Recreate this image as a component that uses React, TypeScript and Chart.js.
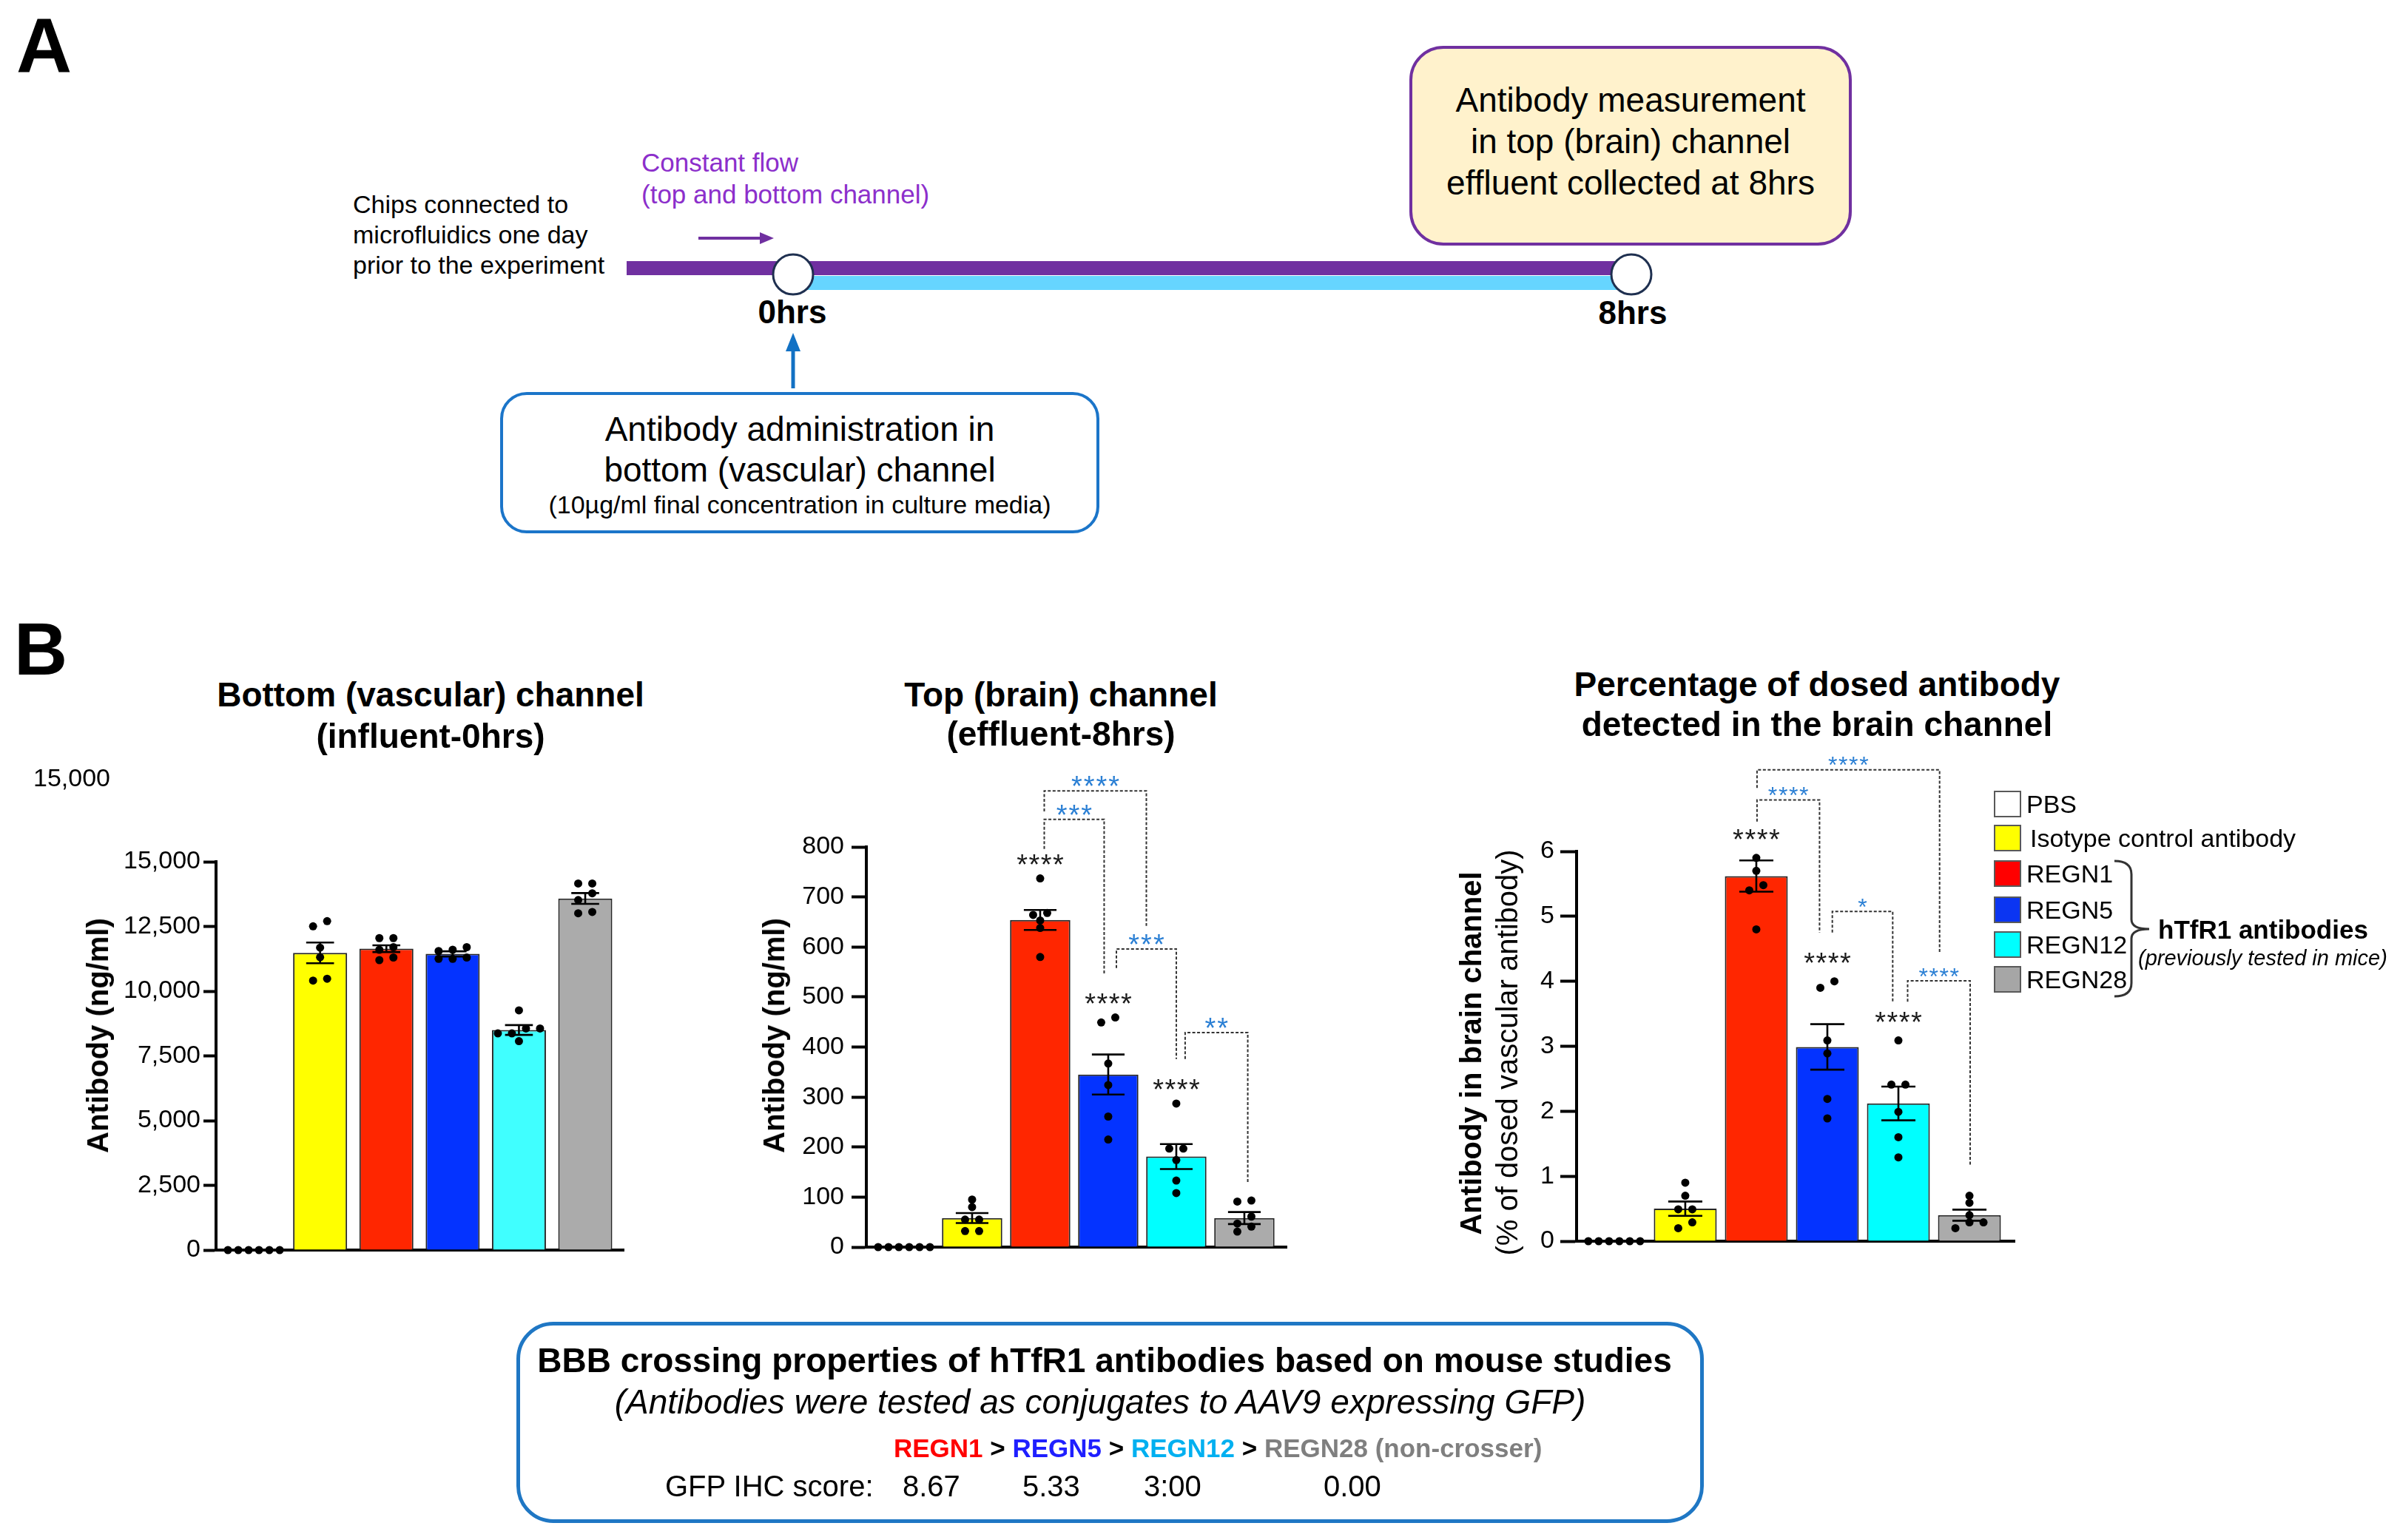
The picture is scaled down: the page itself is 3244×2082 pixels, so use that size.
import React, { useEffect, useRef } from 'react';
import { Chart, registerables } from 'chart.js';

Chart.register(...registerables);

const FONT = '"Liberation Sans", Arial, Helvetica, sans-serif';

// ---------------- DATA ----------------
const groups = ['PBS', 'Isotype control antibody', 'REGN1', 'REGN5', 'REGN12', 'REGN28'];
const legendColors = ['#FFFFFF', '#FFFF00', '#FF0000', '#0B35F2', '#00FFFF', '#A6A6A6'];

// B1: bottom (vascular) channel, influent 0 hrs (ng/ml)
const influentTicks = [0, 2500, 5000, 7500, 10000, 12500, 15000];
const influentMean = [0, 11480, 11640, 11440, 8500, 13580];
const influentSem = [0, 400, 130, 100, 190, 210];
const influentPoints = [
  [0, 0, 0, 0, 0, 0],
  [12705, 12505, 11680, 11310, 10410, 10480],
  [12050, 12050, 11700, 11600, 11300, 11200],
  [11700, 11600, 11550, 11300, 11250, 11250],
  [9260, 8560, 8560, 8370, 8370, 8070],
  [14160, 14160, 13780, 13520, 13010, 13060],
];

// B2: top (brain) channel, effluent 8 hrs (ng/ml)
const effluentTicks = [0, 100, 200, 300, 400, 500, 600, 700, 800];
const effluentMean = [0, 58, 654, 345, 181, 58];
const effluentSem = [0, 10, 20, 40, 25, 12];
const effluentPoints = [
  [0, 0, 0, 0, 0, 0],
  [95, 80, 55, 55, 32, 32],
  [737, 668, 664, 653, 638, 580],
  [449, 459, 367, 324, 261, 215],
  [287, 197, 197, 174, 133, 108],
  [93, 91, 61, 47, 41, 31],
];
const effluentVsControl = ['', '', '****', '****', '****', ''];
const effluentBrackets = [
  { from: 2.06, to: 2.94, level: 855, leftEnd: 796, rightEnd: 546, label: '***' },
  { from: 2.06, to: 3.56, level: 912, leftEnd: 871, rightEnd: 642, label: '****' },
  { from: 3.12, to: 4.0, level: 596, leftEnd: 558, rightEnd: 376, label: '***' },
  { from: 4.13, to: 5.05, level: 429, leftEnd: 376, rightEnd: 127, label: '**' },
];

// B3: % of dosed antibody detected in brain channel
const pctTicks = [0, 1, 2, 3, 4, 5, 6];
const pctMean = [0, 0.5, 5.62, 2.99, 2.12, 0.4];
const pctSem = [0, 0.11, 0.24, 0.35, 0.26, 0.085];
const pctPoints = [
  [0, 0, 0, 0, 0, 0],
  [0.9, 0.7, 0.49, 0.49, 0.29, 0.2],
  [5.9, 5.7, 5.48, 5.4, 4.8],
  [4.0, 3.9, 3.09, 2.89, 2.19, 1.89],
  [3.09, 2.41, 2.41, 1.99, 1.6, 1.29],
  [0.7, 0.59, 0.4, 0.29, 0.29, 0.2],
];
const pctVsControl = ['', '', '****', '****', '****', ''];
const pctBrackets = [
  { from: 2.01, to: 2.89, level: 6.79, leftEnd: 6.457, rightEnd: 4.75, label: '****' },
  { from: 2.01, to: 4.58, level: 7.255, leftEnd: 6.975, rightEnd: 4.447, label: '****' },
  { from: 3.07, to: 3.92, level: 5.074, leftEnd: 4.75, rightEnd: 3.685, label: '*' },
  { from: 4.13, to: 5.01, level: 4.008, leftEnd: 3.685, rightEnd: 1.157, label: '****' },
];

const gfpScores = ['8.67', '5.33', '3:00', '0.00'];

// ---------------- STYLES ----------------
const barColors1 = ['#FFFFFF', '#FFFF00', '#FF2600', '#0433FF', '#40FFFF', '#ABABAB'];
const barColors2 = ['#FFFFFF', '#FFFF00', '#FF2600', '#0433FF', '#00FFFF', '#ABABAB'];
const X_AXIS_H = 4;

type Bracket = { from: number; to: number; level: number; leftEnd: number; rightEnd: number; label: string };
interface PanelCfg {
  id: string;
  left: number; top: number; width: number; height: number;
  pad: { left: number; right: number; top: number; bottom: number };
  yAxisWidth: number;
  xMin: number; xMax: number;
  ticks: number[];
  tickFont: number; tickLength: number; tickPad: number;
  barPct: number; capHalf: number; dotR: number;
  colors: string[];
  means: number[]; sems: number[]; points: number[][];
  brackets: Bracket[]; vsControl: string[];
  starLift: number;
  bStarSize: number; bStarGap: number; bStarLift: number;
}

function swarm(vals: number[], gi: number, pxPerX: number, pxPerY: number) {
  const sorted = [...vals].sort((a, b) => b - a);
  const out: { x: number; y: number }[] = [];
  let i = 0;
  while (i < sorted.length) {
    let j = i + 1;
    while (j < sorted.length && (sorted[i] - sorted[j]) * pxPerY < 9.5) j++;
    const n = j - i;
    const gap = n >= 5 ? 14 : 19;
    const members = sorted.slice(i, j).reverse();
    members.forEach((v, m) => {
      const offPx = (m - (n - 1) / 2) * gap;
      out.push({ x: gi + offPx / pxPerX, y: v });
    });
    i = j;
  }
  return out;
}

function drawStars(ctx: CanvasRenderingContext2D, label: string, cx: number, cy: number, size: number, gap: number, color: string) {
  ctx.save();
  ctx.fillStyle = color;
  ctx.font = `${size}px ${FONT}`;
  ctx.textAlign = 'center';
  ctx.textBaseline = 'alphabetic';
  (ctx as any).letterSpacing = `${gap}px`;
  ctx.fillText(label, cx + gap / 2, cy + 0.58 * size);
  ctx.restore();
}

function annotPlugin(cfg: PanelCfg) {
  return {
    id: 'annot_' + cfg.id,
    afterDatasetDraw(chart: any, args: any) {
      if (args.index !== 0) return;
      const ctx: CanvasRenderingContext2D = chart.ctx;
      const xs = chart.scales.x;
      const ys = chart.scales.y;
      const cat = xs.getPixelForValue(1) - xs.getPixelForValue(0);
      ctx.save();
      ctx.strokeStyle = '#000';
      ctx.lineWidth = 2.6;
      cfg.means.forEach((m, i) => {
        const s = cfg.sems[i];
        if (!s) return;
        const x = xs.getPixelForValue(i);
        const yt = ys.getPixelForValue(m + s);
        const yb = ys.getPixelForValue(m - s);
        const hw = cat * cfg.capHalf;
        ctx.beginPath();
        ctx.moveTo(x, yt); ctx.lineTo(x, yb);
        ctx.moveTo(x - hw, yt); ctx.lineTo(x + hw, yt);
        ctx.moveTo(x - hw, yb); ctx.lineTo(x + hw, yb);
        ctx.stroke();
      });
      ctx.restore();
    },
    afterDatasetsDraw(chart: any) {
      const ctx: CanvasRenderingContext2D = chart.ctx;
      const xs = chart.scales.x;
      const ys = chart.scales.y;
      // stars vs isotype control
      cfg.vsControl.forEach((lab, i) => {
        if (!lab) return;
        const top = Math.max(...cfg.points[i]);
        drawStars(ctx, lab, xs.getPixelForValue(i), ys.getPixelForValue(top) - cfg.starLift, 38, 1.5, '#1a1a1a');
      });
      // comparison brackets
      ctx.save();
      ctx.strokeStyle = '#333';
      ctx.lineWidth = 2;
      ctx.setLineDash([4, 2.5]);
      cfg.brackets.forEach((b) => {
        const x1 = xs.getPixelForValue(b.from);
        const x2 = xs.getPixelForValue(b.to);
        const y = ys.getPixelForValue(b.level);
        ctx.beginPath();
        ctx.moveTo(x1, ys.getPixelForValue(b.leftEnd));
        ctx.lineTo(x1, y);
        ctx.lineTo(x2, y);
        ctx.lineTo(x2, ys.getPixelForValue(b.rightEnd));
        ctx.stroke();
      });
      ctx.restore();
      cfg.brackets.forEach((b) => {
        const cx = (xs.getPixelForValue(b.from) + xs.getPixelForValue(b.to)) / 2;
        const y = ys.getPixelForValue(b.level);
        drawStars(ctx, b.label, cx, y - cfg.bStarLift, cfg.bStarSize, cfg.bStarGap, '#2A7FD4');
      });
    },
  };
}

function buildConfig(cfg: PanelCfg): any {
  const plotW = cfg.width - cfg.pad.left - cfg.yAxisWidth - cfg.pad.right;
  const plotH = cfg.height - cfg.pad.top - cfg.pad.bottom - X_AXIS_H;
  const yMax = cfg.ticks[cfg.ticks.length - 1];
  const pxPerX = plotW / (cfg.xMax - cfg.xMin);
  const pxPerY = plotH / yMax;
  const pts = cfg.points.flatMap((vals, gi) => swarm(vals, gi, pxPerX, pxPerY));
  return {
    type: 'bar',
    data: {
      datasets: [
        {
          type: 'bar',
          data: cfg.means.map((v, i) => ({ x: i, y: v })),
          backgroundColor: cfg.colors,
          borderColor: '#262626',
          borderWidth: cfg.means.map((v) => (v > 0 ? 2 : 0)),
          categoryPercentage: cfg.barPct,
          barPercentage: 1,
          order: 2,
          clip: false,
        },
        {
          type: 'scatter',
          data: pts,
          pointRadius: cfg.dotR,
          pointBackgroundColor: '#000',
          pointBorderWidth: 0,
          showLine: false,
          order: 1,
          clip: false,
        },
      ],
    },
    options: {
      responsive: false,
      animation: false,
      events: [],
      layout: { padding: cfg.pad, autoPadding: false },
      plugins: { legend: { display: false }, tooltip: { enabled: false }, title: { display: false } },
      scales: {
        x: {
          type: 'linear',
          min: cfg.xMin,
          max: cfg.xMax,
          offset: false,
          grid: { display: false, offset: false },
          border: { display: true, color: '#000', width: 4 },
          ticks: { display: false },
          afterBuildTicks: (s: any) => {
            s.ticks = cfg.means.map((_, i) => ({ value: i }));
          },
          afterFit: (s: any) => {
            s.height = X_AXIS_H;
          },
        },
        y: {
          type: 'linear',
          min: cfg.ticks[0],
          max: yMax,
          afterBuildTicks: (s: any) => {
            s.ticks = cfg.ticks.map((v) => ({ value: v }));
          },
          ticks: {
            font: { family: FONT, size: cfg.tickFont },
            color: '#000',
            padding: cfg.tickPad,
            callback: (v: any) => Number(v).toLocaleString('en-US'),
          },
          grid: {
            display: true,
            drawOnChartArea: false,
            drawTicks: true,
            tickLength: cfg.tickLength,
            tickWidth: 4,
            tickColor: '#000',
          },
          border: { display: true, color: '#000', width: 4 },
          afterFit: (s: any) => {
            s.width = cfg.yAxisWidth;
          },
        },
      },
    },
    plugins: [annotPlugin(cfg)],
  };
}

const panels: PanelCfg[] = [
  {
    id: 'influent', left: 0, top: 1004, width: 880, height: 720,
    pad: { left: 150, right: 37, top: 161, bottom: 30 }, yAxisWidth: 142,
    xMin: -0.57, xMax: 5.58, ticks: influentTicks, tickFont: 34, tickLength: 17, tickPad: 4,
    barPct: 0.815, capHalf: 0.21, dotR: 5.5, colors: barColors1,
    means: influentMean, sems: influentSem, points: influentPoints,
    brackets: [], vsControl: ['', '', '', '', '', ''], starLift: 30,
    bStarSize: 38, bStarGap: 2, bStarLift: 15,
  },
  {
    id: 'effluent', left: 1000, top: 993, width: 760, height: 730,
    pad: { left: 40, right: 21, top: 152, bottom: 33 }, yAxisWidth: 131,
    xMin: -0.554, xMax: 5.62, ticks: effluentTicks, tickFont: 34, tickLength: 20, tickPad: 10,
    barPct: 0.886, capHalf: 0.24, dotR: 5.5, colors: barColors2,
    means: effluentMean, sems: effluentSem, points: effluentPoints,
    brackets: effluentBrackets, vsControl: effluentVsControl, starLift: 28,
    bStarSize: 38, bStarGap: 2, bStarLift: 15,
  },
  {
    id: 'pct', left: 1940, top: 993, width: 800, height: 730,
    pad: { left: 80, right: 17, top: 158, bottom: 41 }, yAxisWidth: 111,
    xMin: -0.53, xMax: 5.635, ticks: pctTicks, tickFont: 34, tickLength: 22, tickPad: 8,
    barPct: 0.885, capHalf: 0.24, dotR: 5.5, colors: barColors2,
    means: pctMean, sems: pctSem, points: pctPoints,
    brackets: pctBrackets, vsControl: pctVsControl, starLift: 34,
    bStarSize: 32, bStarGap: 1.6, bStarLift: 14,
  },
];

function BarPanel({ cfg }: { cfg: PanelCfg }) {
  const ref = useRef<HTMLCanvasElement>(null);
  useEffect(() => {
    if (!ref.current) return;
    const chart = new Chart(ref.current, buildConfig(cfg));
    return () => chart.destroy();
  }, [cfg]);
  return (
    <canvas
      ref={ref}
      width={cfg.width}
      height={cfg.height}
      style={{ position: 'absolute', left: cfg.left, top: cfg.top, width: cfg.width, height: cfg.height }}
    />
  );
}

type TxtProps = {
  x: number; y: number; size: number; bold?: boolean; italic?: boolean; color?: string;
  anchor?: 'start' | 'middle' | 'end'; rotate?: boolean; children: React.ReactNode;
};
function Txt({ x, y, size, bold, italic, color = '#000', anchor = 'start', rotate, children }: TxtProps) {
  const tx = anchor === 'middle' ? '-50%' : anchor === 'end' ? '-100%' : '0';
  return (
    <div
      style={{
        position: 'absolute', left: x, top: y, fontSize: size, fontWeight: bold ? 700 : 400,
        fontStyle: italic ? 'italic' : 'normal', color, lineHeight: 1, whiteSpace: 'nowrap',
        transform: rotate ? 'translate(-50%, -50%) rotate(-90deg)' : `translate(${tx}, -50%)`,
      }}
    >
      {children}
    </div>
  );
}

export default function App() {
  const legendY = [1087, 1133, 1181, 1230, 1277, 1324];
  return (
    <div
      style={{
        position: 'fixed', left: 0, top: 0, width: 3244, height: 2082, background: '#fff',
        fontFamily: FONT, overflow: 'hidden',
      }}
    >
      {/* ---------- Panel A ---------- */}
      <Txt x={22} y={61} size={104} bold>A</Txt>
      <svg width={3244} height={760} style={{ position: 'absolute', left: 0, top: 0 }}>
        <rect x={847} y={353} width={2205 - 847} height={19} fill="#7030A0" />
        <rect x={1072} y={373} width={2205 - 1072} height={19} fill="#66D5FF" />
        <circle cx={1072} cy={371} r={27} fill="#fff" stroke="#1F3050" strokeWidth={3} />
        <circle cx={2205} cy={371} r={27} fill="#fff" stroke="#1F3050" strokeWidth={3} />
        <line x1={944} y1={322} x2={1030} y2={322} stroke="#7030A0" strokeWidth={4} />
        <polygon points="1046,322 1027,314 1027,330" fill="#7030A0" />
        <line x1={1072} y1={525} x2={1072} y2={470} stroke="#1271C4" strokeWidth={5} />
        <polygon points="1072,450 1062,475 1082,475" fill="#1271C4" />
      </svg>
      <Txt x={477} y={276} size={34}>Chips connected to</Txt>
      <Txt x={477} y={317} size={34}>microfluidics one day</Txt>
      <Txt x={477} y={358} size={34}>prior to the experiment</Txt>
      <Txt x={867} y={219} size={35} color="#8C2FCB">Constant flow</Txt>
      <Txt x={867} y={262} size={35} color="#8C2FCB">(top and bottom channel)</Txt>
      <Txt x={1071} y={422} size={44} bold anchor="middle">0hrs</Txt>
      <Txt x={2207} y={423} size={44} bold anchor="middle">8hrs</Txt>
      <div
        style={{
          position: 'absolute', left: 676, top: 530, width: 810, height: 191, boxSizing: 'border-box',
          border: '4px solid #1B75C9', borderRadius: 36,
        }}
      />
      <Txt x={1081} y={580} size={46} anchor="middle">Antibody administration in</Txt>
      <Txt x={1081} y={635} size={46} anchor="middle">bottom (vascular) channel</Txt>
      <Txt x={1081} y={682} size={34} anchor="middle">(10µg/ml final concentration in culture media)</Txt>
      <div
        style={{
          position: 'absolute', left: 1905, top: 62, width: 598, height: 270, boxSizing: 'border-box',
          border: '4px solid #7030A0', borderRadius: 46, background: '#FFF2CC',
        }}
      />
      <Txt x={2204} y={135} size={46} anchor="middle">Antibody measurement</Txt>
      <Txt x={2204} y={191} size={46} anchor="middle">in top (brain) channel</Txt>
      <Txt x={2204} y={247} size={46} anchor="middle">effluent collected at 8hrs</Txt>

      {/* ---------- Panel B ---------- */}
      <Txt x={19} y={877} size={100} bold>B</Txt>
      {panels.map((p) => (
        <BarPanel key={p.id} cfg={p} />
      ))}
      <Txt x={582} y={939} size={46} bold anchor="middle">Bottom (vascular) channel</Txt>
      <Txt x={582} y={995} size={46} bold anchor="middle">(influent-0hrs)</Txt>
      <Txt x={45} y={1051} size={34}>15,000</Txt>
      <Txt x={132} y={1400} size={40} bold rotate>Antibody (ng/ml)</Txt>

      <Txt x={1434} y={939} size={46} bold anchor="middle">Top (brain) channel</Txt>
      <Txt x={1434} y={992} size={46} bold anchor="middle">(effluent-8hrs)</Txt>
      <Txt x={1046} y={1400} size={40} bold rotate>Antibody (ng/ml)</Txt>

      <Txt x={2456} y={925} size={46} bold anchor="middle">Percentage of dosed antibody</Txt>
      <Txt x={2456} y={979} size={46} bold anchor="middle">detected in the brain channel</Txt>
      <Txt x={1988} y={1424} size={40} bold rotate>Antibody in brain channel</Txt>
      <Txt x={2037} y={1423} size={40} rotate>(% of dosed vascular antibody)</Txt>

      {/* legend */}
      {groups.map((g, i) => (
        <React.Fragment key={g}>
          <div
            style={{
              position: 'absolute', left: 2695, top: legendY[i] - 18, width: 37, height: 36,
              boxSizing: 'border-box', border: '2px solid #595959', background: legendColors[i],
            }}
          />
          <Txt x={i === 1 ? 2744 : 2739} y={legendY[i]} size={34}>{g}</Txt>
        </React.Fragment>
      ))}
      <svg width={3244} height={2082} style={{ position: 'absolute', left: 0, top: 0, pointerEvents: 'none' }}>
        <path
          d="M 2858 1164 Q 2881 1164 2881 1182 L 2881 1243 Q 2881 1256 2905 1256 Q 2881 1256 2881 1269 L 2881 1329 Q 2881 1347 2858 1347"
          fill="none" stroke="#333" strokeWidth={3}
        />
      </svg>
      <Txt x={2917} y={1256} size={35} bold>hTfR1 antibodies</Txt>
      <Txt x={2890} y={1295} size={29} italic>(previously tested in mice)</Txt>

      {/* bottom box */}
      <div
        style={{
          position: 'absolute', left: 698, top: 1787, width: 1605, height: 272, boxSizing: 'border-box',
          border: '5px solid #1F77C4', borderRadius: 50,
        }}
      />
      <Txt x={1493} y={1839} size={46} bold anchor="middle">BBB crossing properties of hTfR1 antibodies based on mouse studies</Txt>
      <Txt x={1487} y={1895} size={46} italic anchor="middle">(Antibodies were tested as conjugates to AAV9 expressing GFP)</Txt>
      <Txt x={1208} y={1957} size={35} bold>
        <span style={{ color: '#FF0000' }}>REGN1</span>
        <span style={{ color: '#000' }}> &gt; </span>
        <span style={{ color: '#1F1FFF' }}>REGN5</span>
        <span style={{ color: '#000' }}> &gt; </span>
        <span style={{ color: '#00B0F0' }}>REGN12</span>
        <span style={{ color: '#000' }}> &gt; </span>
        <span style={{ color: '#7F7F7F' }}>REGN28 (non-crosser)</span>
      </Txt>
      <Txt x={899} y={2009} size={40}>GFP IHC score:</Txt>
      <Txt x={1220} y={2009} size={40}>{gfpScores[0]}</Txt>
      <Txt x={1382} y={2009} size={40}>{gfpScores[1]}</Txt>
      <Txt x={1546} y={2009} size={40}>{gfpScores[2]}</Txt>
      <Txt x={1789} y={2009} size={40}>{gfpScores[3]}</Txt>
    </div>
  );
}
